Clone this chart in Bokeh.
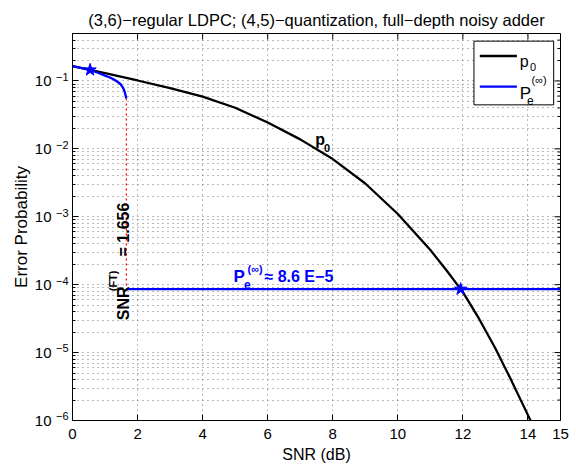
import math
from bokeh.plotting import figure
from bokeh.models import Range1d, FixedTicker, CustomJSTickFormatter, LogAxis
from bokeh.core.properties import value
from bokeh.embed import file_html
from bokeh.resources import INLINE

# ---------------- data ----------------
snr_p0 = [0, 0.5, 1, 2, 3, 4, 5, 6, 7, 8, 9, 10, 11, 11.5, 12, 12.5, 13, 13.5, 14, 14.1]
p0 = [0.166, 0.147, 0.130, 0.1016, 0.0785, 0.0589, 0.0403, 0.0245, 0.0138, 0.00708,
      0.00309, 0.0011, 3.24e-4, 1.62e-4, 7.76e-5, 3.13e-5, 1.15e-5, 3.8e-6, 1.2e-6, 0.95e-6]

snr_pe_a = [0, 0.3, 0.54, 0.8, 1.0, 1.17, 1.3, 1.4, 1.48, 1.55, 1.6, 1.63, 1.656]
pe_a = [0.166, 0.155, 0.1455, 0.131, 0.120, 0.1117, 0.103, 0.096, 0.0895, 0.080,
        0.070, 0.062, 0.055]

SNR_FT = 1.656
PE_INF = 8.6e-5
snr_pe_b = [SNR_FT, 15]
pe_b = [PE_INF, PE_INF]

star_snr = [0.54, 11.93]
star_pe = [0.1455, PE_INF]

x_ticks = [0, 2, 4, 6, 8, 10, 12, 14, 15]
y_decades = [-6, -5, -4, -3, -2, -1]

TITLE = "(3,6)\u2212regular LDPC; (4,5)\u2212quantization, full\u2212depth noisy adder"
FONT = "Liberation Sans"

X_MIN, X_MAX = 0, 15
Y_MIN, Y_MAX = 1e-6, 0.5
SUP_SHIFT = 1.15   # raises the exponent of each 10^d label a few pixels

# ---------------- figure ----------------
p = figure(width=576, height=466, x_range=Range1d(X_MIN, X_MAX), y_range=Range1d(Y_MIN, Y_MAX),
           y_axis_type="log", output_backend="svg", toolbar_location=None,
           min_border_left=72, min_border_right=16, min_border_top=33, min_border_bottom=46)
p.background_fill_color = "white"
p.border_fill_color = "white"
p.outline_line_color = "black"
p.outline_line_width = 1

p.title.text = TITLE
p.title.align = "center"
p.title.offset = 6
p.title.text_font = FONT
p.title.text_font_size = "16.5px"
p.title.text_font_style = "normal"
p.title.text_color = "black"
p.title.standoff = 10

y_major = [10.0 ** d for d in y_decades]
y_minor = []
for d in y_decades:
    for m in range(2, 10):
        v = m * 10.0 ** d
        if v <= Y_MAX:
            y_minor.append(v)

yt = FixedTicker(ticks=y_major, minor_ticks=y_minor)
yt_sup = FixedTicker(ticks=[v * SUP_SHIFT for v in y_major])
xt = FixedTicker(ticks=x_ticks)

def style_axis(ax):
    ax.axis_line_color = "black"
    ax.major_tick_in = 6
    ax.major_tick_out = 0
    ax.minor_tick_in = 3
    ax.minor_tick_out = 0
    ax.major_tick_line_color = "black"
    ax.minor_tick_line_color = "black"
    ax.major_label_text_font = FONT
    ax.major_label_text_font_size = "15px"
    ax.major_label_text_color = "black"
    ax.axis_label_text_font = FONT
    ax.axis_label_text_font_size = "16px"
    ax.axis_label_text_font_style = "normal"
    ax.axis_label_text_color = "black"

def bare(ax):
    ax.axis_line_color = None
    ax.major_tick_line_color = None
    ax.minor_tick_line_color = None
    ax.major_tick_in = 0
    ax.minor_tick_in = 0

# inner left axis: frame edge and inward ticks, no labels
yax = p.yaxis[0]
yax.ticker = yt
yax.formatter = CustomJSTickFormatter(code="return '';")
style_axis(yax)
yax.major_label_standoff = 0

# exponent of each 10^d label (slightly raised)
yax_sup = LogAxis(ticker=yt_sup, formatter=CustomJSTickFormatter(
    args=dict(k=SUP_SHIFT),
    code="return String(Math.round(Math.log10(tick / k))).replace('-', '\u2212');"))
style_axis(yax_sup)
bare(yax_sup)
yax_sup.major_label_text_font_size = "11px"
yax_sup.major_label_standoff = 4
p.add_layout(yax_sup, "left")

# base "10" of each label plus the axis title
yax2 = LogAxis(ticker=yt, formatter=CustomJSTickFormatter(code="return '10';"))
style_axis(yax2)
bare(yax2)
yax2.major_label_standoff = 1
yax2.axis_label = "Error Probability"
yax2.axis_label_text_font_size = "17px"
yax2.axis_label_standoff = 1
p.add_layout(yax2, "left")

xax = p.xaxis[0]
xax.ticker = xt
style_axis(xax)
xax.minor_tick_line_color = None
xax.major_label_standoff = 8
xax.axis_label = "SNR (dB)"
xax.axis_label_standoff = 4

# grids
for g in (p.xgrid[0], p.ygrid[0]):
    g.grid_line_color = "#555555"
    g.grid_line_dash = "1 4"
    g.grid_line_width = 1
    g.grid_line_alpha = 0.8
p.xgrid[0].ticker = xt
p.ygrid[0].ticker = yt
p.ygrid[0].minor_grid_line_color = "#555555"
p.ygrid[0].minor_grid_line_dash = "1 4"
p.ygrid[0].minor_grid_line_width = 1
p.ygrid[0].minor_grid_line_alpha = 0.8

# inward ticks on top and right edges (box on)
p.ray(x=x_ticks, y=[Y_MAX] * len(x_ticks), length=6, angle=-math.pi / 2,
      length_units="screen", line_color="black", line_width=1)
p.ray(x=[X_MAX] * len(y_major), y=y_major, length=6, angle=math.pi,
      length_units="screen", line_color="black", line_width=1)
p.ray(x=[X_MAX] * len(y_minor), y=y_minor, length=3, angle=math.pi,
      length_units="screen", line_color="black", line_width=1)

# ---------------- curves ----------------
p.line(snr_p0, p0, line_color="black", line_width=2.3)
p.line([SNR_FT, SNR_FT], [pe_a[-1], PE_INF], line_color="red", line_width=1.3, line_dash="2 3")
p.line(snr_pe_a, pe_a, line_color="blue", line_width=2.3)
p.line(snr_pe_b, pe_b, line_color="blue", line_width=2.3)
p.scatter(star_snr, star_pe, marker="star", size=13, fill_color="blue", line_color="blue")

# ---------------- annotations ----------------
def txt(x, y, s, size, color="black", bold=True, angle=0.0):
    p.text(x=[x], y=[y], text=[s], text_font=value(FONT), text_font_size=size,
           text_font_style="bold" if bold else "normal", text_color=color,
           text_align="left", text_baseline="alphabetic", angle=angle)

# p0 label near curve
txt(7.46, 0.0136, "p", "16px")
txt(7.73, 0.0104, "0", "11px")

# P_e^(inf) label
txt(4.95, 1.33e-4, "P", "17px", color="blue")
txt(5.27, 1.01e-4, "e", "12px", color="blue")
txt(5.38, 1.68e-4, "(\u221e)", "11px", color="blue")
txt(5.90, 1.33e-4, "\u2248 8.6 E\u22125", "16px", color="blue")

# SNR^(FT) vertical label
ang = math.pi / 2
txt(1.58, 3.0e-5, "SNR", "16px", angle=ang)
txt(1.25, 8.0e-5, "(FT)", "11px", angle=ang)
txt(1.58, 2.6e-4, " = 1.656", "16px", angle=ang)

# ---------------- legend (manual) ----------------
p.quad(left=[12.34], right=[14.79], bottom=[0.0445], top=[0.386],
       fill_color="white", line_color="black", line_width=1)
p.line([12.52, 13.66], [0.233, 0.233], line_color="black", line_width=2.3)
p.line([12.52, 13.66], [0.0824, 0.0824], line_color="blue", line_width=2.3)
txt(13.75, 0.192, "p", "16px", bold=False)
txt(14.06, 0.160, "0", "11px", bold=False)
txt(13.75, 0.0644, "P", "17px", bold=False)
txt(13.97, 0.0508, "e", "12px", bold=False)
txt(14.11, 0.103, "(\u221e)", "11px", bold=False)

open("out.html", "w").write(file_html(p, INLINE))
